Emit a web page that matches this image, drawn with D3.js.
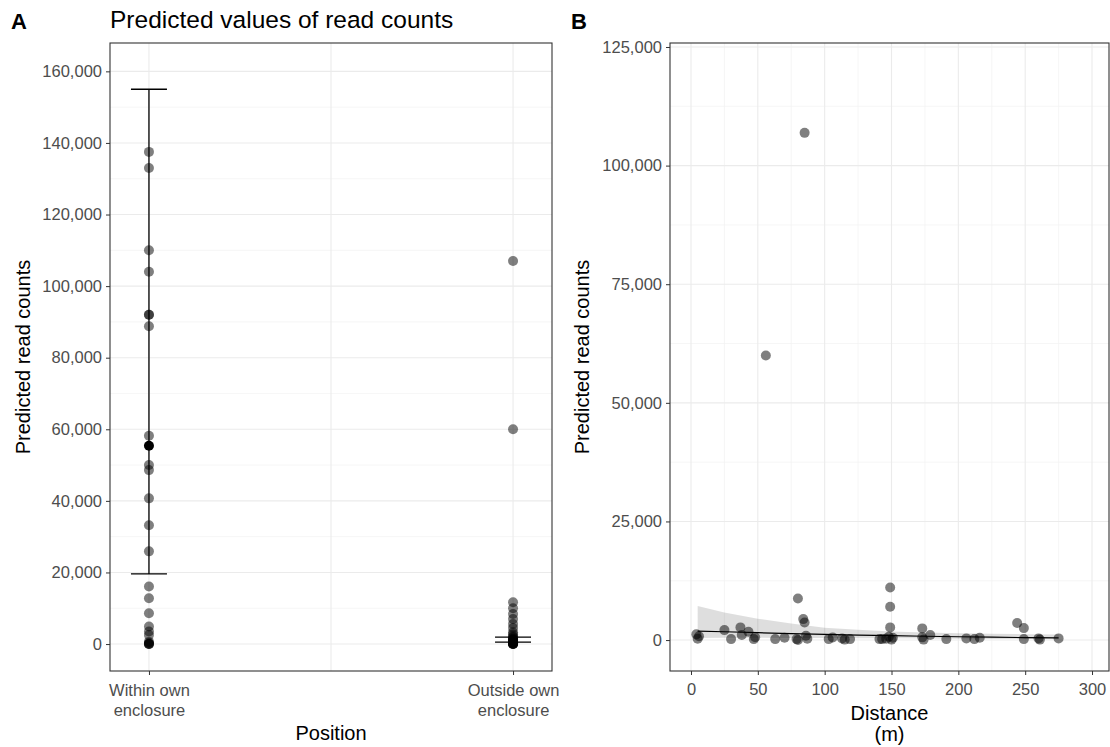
<!DOCTYPE html>
<html>
<head>
<meta charset="utf-8">
<script src="https://cdn.jsdelivr.net/npm/d3@7"></script>
<style>
  body { margin: 0; background: #fff; }
  svg { font-family: "Liberation Sans", Arial, sans-serif; }
</style>
</head>
<body>
<svg id="chart" width="1110" height="747"></svg>
<script>
// panel A: predicted read counts by position
var positions = ["Within own\nenclosure", "Outside own\nenclosure"];
var withinCounts = [137500, 133000, 110000, 104000, 92000, 92000, 88800, 58200, 50000, 48600,
    40700, 33200, 25900, 16100, 12800, 8600, 4900, 3500, 2500, 600, 300, 0, 0, 0];
var outsideCounts = [107000, 60000, 11700, 10000, 8400, 7000, 5600, 4500, 3300, 2700, 2200,
    1800, 1500, 1200, 900, 700, 500, 400, 300, 200, 100, 50, 0, 0, 0];
var predicted = [55400, 1200];
var ciLow = [19600, 560];
var ciHigh = [155000, 1950];
var yTicksA = [0, 20000, 40000, 60000, 80000, 100000, 120000, 140000, 160000];

// panel B: predicted read counts by distance
var distance = [5, 6, 4, 25, 30, 37, 38, 43, 47, 48, 56, 63, 70, 79, 80, 80, 84, 85, 85, 86, 87,
    103, 106, 113, 115, 119, 141, 143, 146, 148, 149, 149, 149, 150, 151, 173, 173, 174, 179,
    191, 206, 212, 216, 244, 249, 249, 260, 261, 275];
var readCounts = [300, 800, 1200, 2100, 200, 2670, 1050, 1750, 200, 600, 59970, 200, 500, 200, 0,
    8770, 4420, 3720, 106900, 900, 300, 200, 560, 350, 100, 200, 200, 200, 300, 700, 11090, 7010,
    2670, 100, 500, 2460, 570, 100, 1050, 200, 350, 200, 480, 3580, 2520, 200, 350, 100, 350];
var fitDist = [5, 25, 50, 75, 100, 125, 150, 175, 200, 225, 250, 275];
var fitValue = [1900, 1750, 1550, 1350, 1200, 1050, 920, 800, 700, 600, 520, 450];
var fitUpper = [7200, 5800, 4500, 3500, 2600, 2150, 1800, 1600, 1450, 1350, 1250, 1150];
var fitLower = [450, 480, 480, 460, 430, 400, 360, 320, 280, 240, 200, 160];
var xTicksB = [0, 50, 100, 150, 200, 250, 300];
var yTicksB = [0, 25000, 50000, 75000, 100000, 125000];

var svg = d3.select("#chart");
var fmt = d3.format(",");
var plotTop = 43, plotBottom = 671;
var tickFont = "16.5px", labelFont = "20px";

function drawGrid(g, x, y, vx, vMinor, hx, hMinor, w, h) {
    g.selectAll(".hmin").data(hMinor).enter().append("line")
        .attr("x1", 0).attr("x2", w).attr("y1", y).attr("y2", y)
        .attr("stroke", "#F2F2F2").attr("stroke-width", 0.7);
    g.selectAll(".vmin").data(vMinor).enter().append("line")
        .attr("y1", 0).attr("y2", h).attr("x1", x).attr("x2", x)
        .attr("stroke", "#F2F2F2").attr("stroke-width", 0.7);
    g.selectAll(".hmaj").data(hx).enter().append("line")
        .attr("x1", 0).attr("x2", w).attr("y1", y).attr("y2", y)
        .attr("stroke", "#EBEBEB").attr("stroke-width", 1.1);
    g.selectAll(".vmaj").data(vx).enter().append("line")
        .attr("y1", 0).attr("y2", h).attr("x1", x).attr("x2", x)
        .attr("stroke", "#EBEBEB").attr("stroke-width", 1.1);
}

function styleAxis(ax) {
    ax.select(".domain").remove();
    ax.selectAll(".tick line").attr("stroke", "#333");
    ax.selectAll(".tick text").attr("fill", "#4D4D4D").attr("font-size", tickFont);
}

// ---------- panel A ----------
var aLeft = 110, aWidth = 442, aHeight = plotBottom - plotTop;
var gA = svg.append("g").attr("transform", "translate(" + aLeft + "," + plotTop + ")");

var xA = d3.scalePoint().domain(positions).range([0, aWidth]).padding(0.107);
var yA = d3.scaleLinear().domain([-7530, 167920]).range([aHeight, 0]);

var yMinorA = d3.range(10000, 170000, 20000);
var midA = [(xA(positions[0]) + xA(positions[1])) / 2];
gA.selectAll(".hmin").data(yMinorA).enter().append("line")
    .attr("x1", 0).attr("x2", aWidth).attr("y1", yA).attr("y2", yA)
    .attr("stroke", "#F2F2F2").attr("stroke-width", 0.7);
gA.selectAll(".hmaj").data(yTicksA).enter().append("line")
    .attr("x1", 0).attr("x2", aWidth).attr("y1", yA).attr("y2", yA)
    .attr("stroke", "#EBEBEB").attr("stroke-width", 1.1);
gA.selectAll(".vmaj").data(positions).enter().append("line")
    .attr("y1", 0).attr("y2", aHeight).attr("x1", xA).attr("x2", xA)
    .attr("stroke", "#EBEBEB").attr("stroke-width", 1.1);
gA.selectAll(".vmid").data(midA).enter().append("line")
    .attr("y1", 0).attr("y2", aHeight)
    .attr("x1", function(d) { return d; }).attr("x2", function(d) { return d; })
    .attr("stroke", "#EBEBEB").attr("stroke-width", 1.1);

var rawA = withinCounts.map(function(v) { return {pos: positions[0], v: v}; })
    .concat(outsideCounts.map(function(v) { return {pos: positions[1], v: v}; }));

gA.selectAll(".raw").data(rawA).enter().append("circle")
    .attr("cx", function(d) { return xA(d.pos); })
    .attr("cy", function(d) { return yA(d.v); })
    .attr("r", 5)
    .attr("fill", "#000")
    .attr("fill-opacity", 0.5);

var pred = positions.map(function(p, i) {
    return {pos: p, v: predicted[i], lo: ciLow[i], hi: ciHigh[i]};
});
var capW = 18;
gA.selectAll(".eb").data(pred).enter().append("line")
    .attr("x1", function(d) { return xA(d.pos); }).attr("x2", function(d) { return xA(d.pos); })
    .attr("y1", function(d) { return yA(d.lo); }).attr("y2", function(d) { return yA(d.hi); })
    .attr("stroke", "#000").attr("stroke-width", 1.3);
["lo", "hi"].forEach(function(k) {
    gA.selectAll(".cap" + k).data(pred).enter().append("line")
        .attr("x1", function(d) { return xA(d.pos) - capW; })
        .attr("x2", function(d) { return xA(d.pos) + capW; })
        .attr("y1", function(d) { return yA(d[k]); }).attr("y2", function(d) { return yA(d[k]); })
        .attr("stroke", "#000").attr("stroke-width", 1.3);
});
gA.selectAll(".pred").data(pred).enter().append("circle")
    .attr("cx", function(d) { return xA(d.pos); })
    .attr("cy", function(d) { return yA(d.v); })
    .attr("r", 5).attr("fill", "#000");

gA.append("rect").attr("width", aWidth).attr("height", aHeight)
    .attr("fill", "none").attr("stroke", "#333").attr("stroke-width", 1.1);

var axYA = gA.append("g").call(d3.axisLeft(yA).tickValues(yTicksA).tickFormat(fmt).tickSize(4).tickPadding(4));
styleAxis(axYA);
var axXA = gA.append("g").attr("transform", "translate(0," + aHeight + ")")
    .call(d3.axisBottom(xA).tickSize(4).tickFormat(""));
styleAxis(axXA);
axXA.selectAll(".tick").append("text")
    .attr("fill", "#4D4D4D").attr("font-size", tickFont).attr("text-anchor", "middle")
    .selectAll("tspan").data(function(d) { return d.split("\n"); }).enter().append("tspan")
    .attr("x", 0).attr("y", function(d, i) { return 25 + i * 20; })
    .text(function(d) { return d; });

svg.append("text").attr("x", aLeft + aWidth / 2).attr("y", 740)
    .attr("text-anchor", "middle").attr("font-size", labelFont).text("Position");
svg.append("text").attr("transform", "translate(30," + (plotTop + aHeight / 2) + ") rotate(-90)")
    .attr("text-anchor", "middle").attr("font-size", labelFont).text("Predicted read counts");
svg.append("text").attr("x", 110).attr("y", 28).attr("font-size", "24.5px").text("Predicted values of read counts");
svg.append("text").attr("x", 11).attr("y", 29).attr("font-size", "22px").attr("font-weight", "bold").text("A");

// ---------- panel B ----------
var bLeft = 670, bWidth = 439, bHeight = plotBottom - plotTop;
var gB = svg.append("g").attr("transform", "translate(" + bLeft + "," + plotTop + ")");

var xB = d3.scaleLinear().domain([-15.7, 312.7]).range([0, bWidth]);
var yB = d3.scaleLinear().domain([-6520, 125840]).range([bHeight, 0]);

var xMinorB = d3.range(25, 325, 50);
var yMinorB = d3.range(12500, 125000, 25000);
drawGrid(gB, xB, yB, xTicksB, xMinorB, yTicksB, yMinorB, bWidth, bHeight);

var band = fitDist.map(function(d, i) { return {d: d, v: fitValue[i], lo: fitLower[i], hi: fitUpper[i]}; });
gB.append("path").datum(band)
    .attr("d", d3.area().x(function(d) { return xB(d.d); })
        .y0(function(d) { return yB(d.lo); }).y1(function(d) { return yB(d.hi); }))
    .attr("fill", "#000").attr("fill-opacity", 0.13);

gB.selectAll(".raw").data(distance).enter().append("circle")
    .attr("cx", function(d) { return xB(d); })
    .attr("cy", function(d, i) { return yB(readCounts[i]); })
    .attr("r", 5)
    .attr("fill", "#000")
    .attr("fill-opacity", 0.5);

gB.append("path").datum(band)
    .attr("d", d3.line().x(function(d) { return xB(d.d); }).y(function(d) { return yB(d.v); }))
    .attr("fill", "none").attr("stroke", "#000").attr("stroke-width", 1.2);

gB.append("rect").attr("width", bWidth).attr("height", bHeight)
    .attr("fill", "none").attr("stroke", "#333").attr("stroke-width", 1.1);

var axYB = gB.append("g").call(d3.axisLeft(yB).tickValues(yTicksB).tickFormat(fmt).tickSize(4).tickPadding(4));
styleAxis(axYB);
var axXB = gB.append("g").attr("transform", "translate(0," + bHeight + ")")
    .call(d3.axisBottom(xB).tickValues(xTicksB).tickSize(4).tickPadding(8));
styleAxis(axXB);

svg.append("text").attr("x", bLeft + bWidth / 2).attr("y", 720)
    .attr("text-anchor", "middle").attr("font-size", labelFont).text("Distance");
svg.append("text").attr("x", bLeft + bWidth / 2).attr("y", 741)
    .attr("text-anchor", "middle").attr("font-size", labelFont).text("(m)");
svg.append("text").attr("transform", "translate(589," + (plotTop + bHeight / 2) + ") rotate(-90)")
    .attr("text-anchor", "middle").attr("font-size", labelFont).text("Predicted read counts");
svg.append("text").attr("x", 571).attr("y", 29).attr("font-size", "22px").attr("font-weight", "bold").text("B");
</script>
</body>
</html>
